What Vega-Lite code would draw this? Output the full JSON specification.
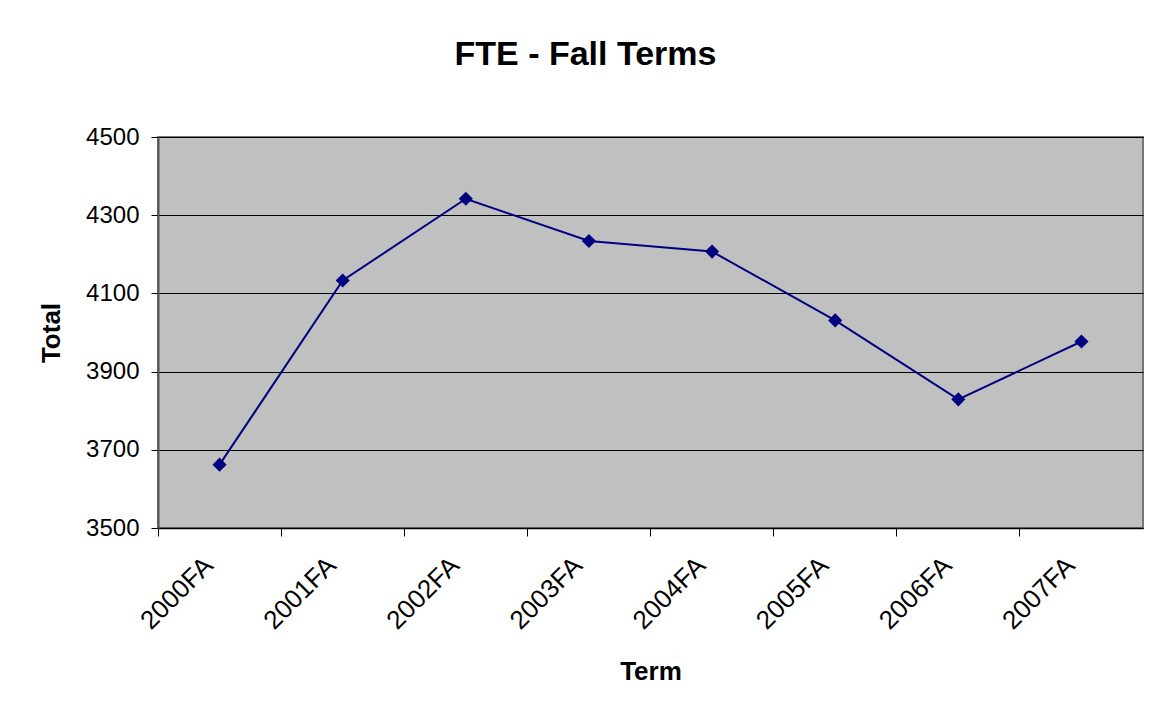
{
  "$schema": "https://vega.github.io/schema/vega-lite/v6.json",
  "autosize": "none",
  "width": 985,
  "height": 391,
  "padding": {"left": 158, "top": 137, "right": 10, "bottom": 182},
  "background": "white",
  "config": {
    "font": "Liberation Sans",
    "view": {"fill": "#c0c0c0", "stroke": "#777777", "strokeWidth": 2}
  },
  "title": {
    "text": "FTE - Fall Terms",
    "fontSize": 34,
    "fontWeight": "bold",
    "color": "black",
    "font": "Liberation Sans",
    "anchor": "middle",
    "dx": -65,
    "offset": 53
  },
  "data": {
    "values": [
      {"Term": "2000FA", "Total": 3662},
      {"Term": "2001FA", "Total": 4133},
      {"Term": "2002FA", "Total": 4342},
      {"Term": "2003FA", "Total": 4234},
      {"Term": "2004FA", "Total": 4207},
      {"Term": "2005FA", "Total": 4031},
      {"Term": "2006FA", "Total": 3829},
      {"Term": "2007FA", "Total": 3977}
    ]
  },
  "encoding": {
    "x": {
      "field": "Term",
      "type": "ordinal",
      "scale": {"type": "band", "paddingInner": 0, "paddingOuter": 0},
      "axis": {
        "title": "Term",
        "titleFontSize": 26,
        "titleFontWeight": "bold",
        "titleColor": "black",
        "titlePadding": 25,
        "labelAngle": -45,
        "labelFontSize": 26,
        "labelColor": "black",
        "labelPadding": 16,
        "labelOffset": -20,
        "bandPosition": 0,
        "ticks": true,
        "tickSize": 8,
        "tickColor": "black",
        "domainColor": "black",
        "domainWidth": 1.5,
        "grid": false
      }
    },
    "y": {
      "field": "Total",
      "type": "quantitative",
      "scale": {"domain": [3500, 4500], "nice": false, "zero": false},
      "axis": {
        "title": "Total",
        "titleFontSize": 26,
        "titleFontWeight": "bold",
        "titleColor": "black",
        "titlePadding": 21,
        "values": [3500, 3700, 3900, 4100, 4300, 4500],
        "format": "d",
        "labelFontSize": 24,
        "labelColor": "black",
        "labelPadding": 12,
        "tickSize": 7,
        "tickColor": "black",
        "domainColor": "#555555",
        "domainWidth": 2,
        "grid": true,
        "gridColor": "black",
        "gridWidth": 1,
        "gridOpacity": 1
      }
    }
  },
  "layer": [
    {"mark": {"type": "line", "color": "#000080", "strokeWidth": 2}},
    {"mark": {"type": "point", "shape": "diamond", "filled": true, "color": "#000080", "opacity": 1, "size": 200}}
  ]
}
